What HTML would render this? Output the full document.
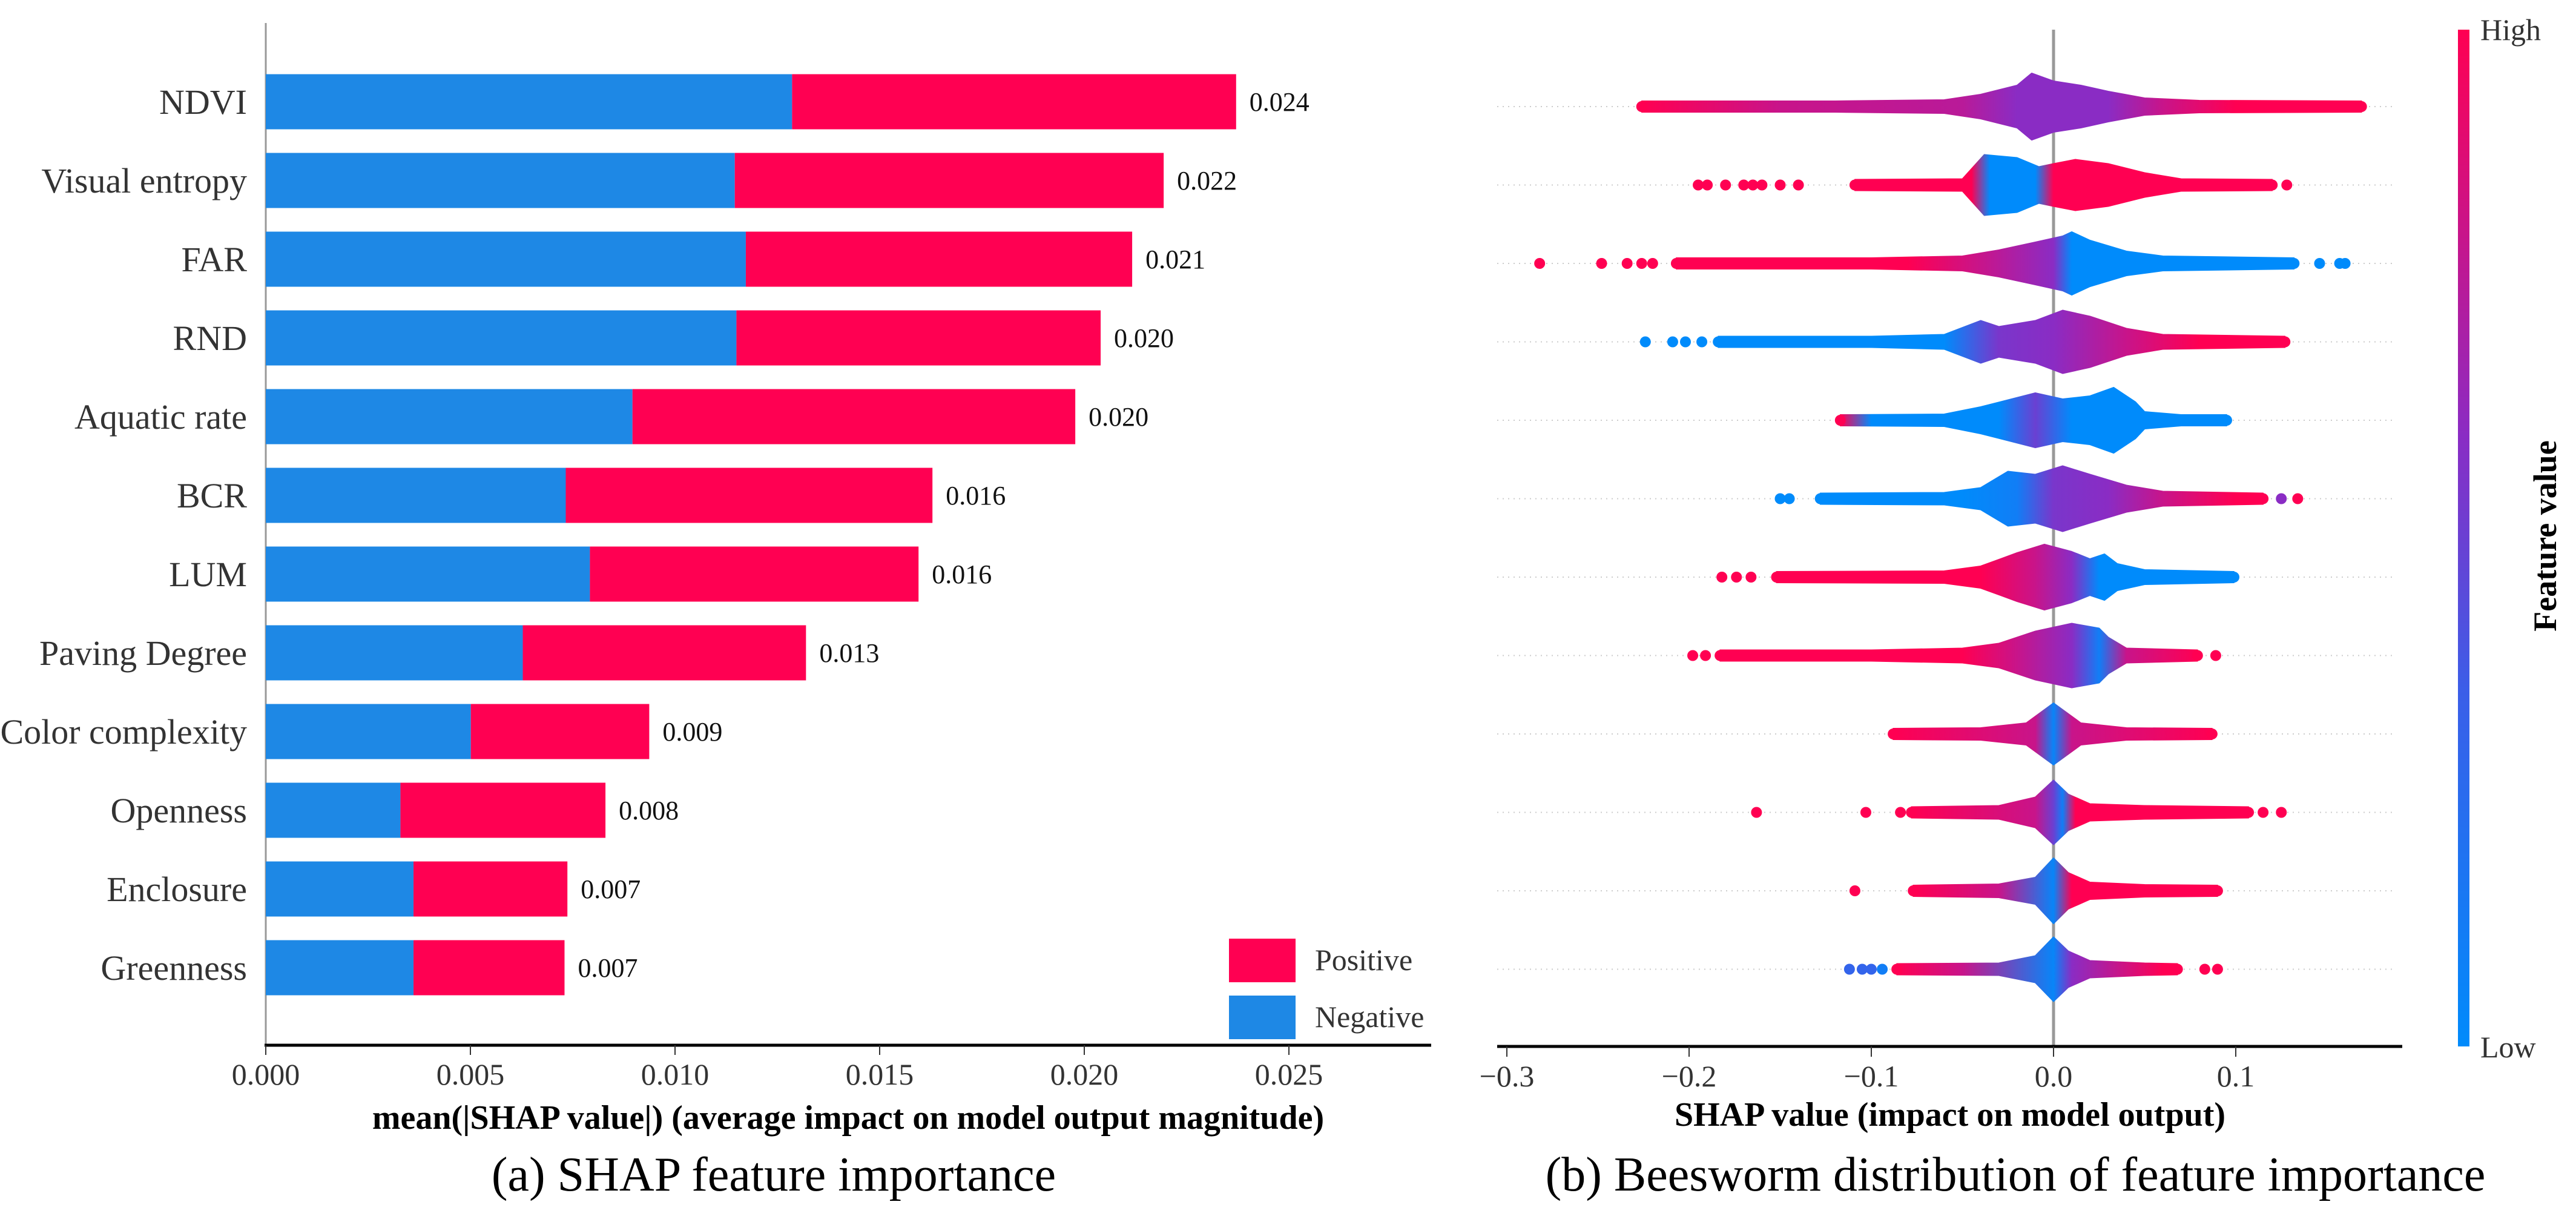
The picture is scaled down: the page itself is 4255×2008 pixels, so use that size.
<!DOCTYPE html>
<html><head><meta charset="utf-8"><style>
html,body{margin:0;padding:0;background:#fff}
svg{display:block;font-family:"Liberation Serif","Times New Roman",serif}
</style></head><body>
<svg id="fig" xmlns="http://www.w3.org/2000/svg" width="4255" height="2008" viewBox="0 0 4255 2008">
<defs>
<linearGradient id="cbar" x1="0" y1="1" x2="0" y2="0">
<stop offset="0" stop-color="#008bfb"/><stop offset="0.35" stop-color="#3b5ee8"/><stop offset="0.6" stop-color="#8a2cc4"/><stop offset="0.8" stop-color="#c8148a"/><stop offset="1" stop-color="#ff0052"/>
</linearGradient>
</defs>
<g id="left"></g>
<g id="right"></g>
</svg>
<script>
const features = ["NDVI","Visual entropy","FAR","RND","Aquatic rate","BCR","LUM","Paving Degree","Color complexity","Openness","Enclosure","Greenness"];
const negativeVals = [0.01286,0.01146,0.01173,0.0115,0.00896,0.00733,0.00792,0.00628,0.00501,0.00329,0.00361,0.00361];
const totalVals = [0.02371,0.02194,0.02117,0.0204,0.01978,0.01629,0.01595,0.0132,0.00937,0.0083,0.00737,0.0073];
const valueLabels = ["0.024","0.022","0.021","0.020","0.020","0.016","0.016","0.013","0.009","0.008","0.007","0.007"];
const leftTicks = [0,0.005,0.01,0.015,0.02,0.025];
const leftTickLabels = ["0.000","0.005","0.010","0.015","0.020","0.025"];
const rightTicks = [-0.3,-0.2,-0.1,0,0.1];
const rightTickLabels = ["\u22120.3","\u22120.2","\u22120.1","0.0","0.1"];
// beeswarm density profiles [shap value, half-height px] per feature
const beeProfiles = [
 [[-0.226,9],[-0.12,9],[-0.06,11],[-0.04,20],[-0.02,35],[-0.012,55],[0,42],[0.015,35],[0.03,25],[0.05,14],[0.08,10],[0.169,9]],
 [[-0.109,9],[-0.05,10],[-0.038,50],[-0.02,45],[-0.008,30],[0,35],[0.012,42],[0.03,35],[0.05,20],[0.07,10],[0.12,9]],
 [[-0.207,9],[-0.1,9],[-0.05,12],[-0.03,22],[-0.01,35],[0.005,45],[0.01,52],[0.02,38],[0.04,20],[0.06,12],[0.132,9]],
 [[-0.184,9],[-0.1,9],[-0.06,12],[-0.04,35],[-0.03,25],[-0.01,35],[0.005,52],[0.02,42],[0.04,22],[0.06,12],[0.127,9]],
 [[-0.117,9],[-0.06,10],[-0.04,22],[-0.01,45],[0.005,35],[0.02,40],[0.033,54],[0.045,30],[0.05,14],[0.07,9],[0.095,9]],
 [[-0.128,9],[-0.06,10],[-0.04,18],[-0.025,45],[-0.01,40],[0.005,54],[0.02,40],[0.04,22],[0.06,12],[0.115,9]],
 [[-0.152,9],[-0.06,10],[-0.04,18],[-0.02,40],[-0.005,54],[0.01,42],[0.02,30],[0.028,38],[0.035,22],[0.05,12],[0.099,9]],
 [[-0.183,9],[-0.1,9],[-0.05,12],[-0.03,20],[-0.01,40],[0.01,53],[0.025,45],[0.03,30],[0.04,12],[0.079,9]],
 [[-0.088,9],[-0.04,10],[-0.015,18],[-0.005,40],[0,51],[0.005,40],[0.015,18],[0.04,10],[0.087,9]],
 [[-0.078,9],[-0.03,11],[-0.01,25],[0,53],[0.008,30],[0.02,14],[0.05,11],[0.107,9]],
 [[-0.077,9],[-0.03,11],[-0.01,22],[0,54],[0.008,30],[0.02,14],[0.05,10],[0.09,9]],
 [[-0.086,9],[-0.03,10],[-0.01,22],[0,53],[0.008,30],[0.02,14],[0.05,10],[0.068,9]]
];
// colour stops [shap value, feature-value level 0=low..1=high]
const beeColors = [
 [[-0.226,1],[-0.15,0.8],[-0.05,0.75],[-0.02,0.6],[0.03,0.6],[0.06,0.8],[0.1,1],[0.169,1]],
 [[-0.11,1],[-0.045,1],[-0.035,0],[-0.01,0],[0,1],[0.12,1]],
 [[-0.21,1],[-0.08,1],[-0.03,0.75],[0,0.6],[0.01,0],[0.04,0],[0.132,0]],
 [[-0.184,0],[-0.06,0],[-0.03,0.55],[0,0.6],[0.04,0.8],[0.08,1],[0.127,1]],
 [[-0.117,1],[-0.1,0],[-0.03,0],[-0.01,0.5],[0.01,0],[0.095,0]],
 [[-0.128,0],[-0.05,0],[-0.02,0.1],[0,0.55],[0.03,0.6],[0.06,0.8],[0.1,1],[0.115,1]],
 [[-0.152,1],[-0.04,1],[-0.01,0.8],[0.01,0.6],[0.025,0],[0.099,0]],
 [[-0.183,1],[-0.05,1],[-0.02,0.8],[0.01,0.6],[0.025,0.1],[0.04,0.8],[0.079,1]],
 [[-0.088,1],[-0.01,0.8],[0,0.05],[0.01,0.8],[0.087,1]],
 [[-0.078,1],[-0.01,0.8],[0,0.5],[0.005,0.1],[0.012,1],[0.107,1]],
 [[-0.077,1],[-0.03,0.8],[0,0.05],[0.01,1],[0.09,1]],
 [[-0.086,1],[-0.05,0.8],[0,0.05],[0.01,0.6],[0.06,1]]
];
// isolated points [feature index, shap value, level]
const outlierRow = [1,1,1,1,1,1,1,1,1,1,2,2,2,2,2,2,2,2,3,3,3,3,5,5,5,5,6,6,6,7,7,7,9,9,9,9,9,10,11,11,11,11,11,11];
const outlierVal = [-0.195,-0.19,-0.18,-0.17,-0.165,-0.16,-0.15,-0.14,0.115,0.128,-0.282,-0.248,-0.234,-0.226,-0.22,0.146,0.157,0.16,-0.224,-0.209,-0.202,-0.193,-0.15,-0.145,0.125,0.134,-0.182,-0.174,-0.166,-0.198,-0.191,0.089,-0.163,-0.103,-0.084,0.115,0.125,-0.109,-0.112,-0.105,-0.1,-0.094,0.083,0.09];
const outlierLvl = [1,1,1,1,1,1,1,1,1,1,1,1,1,1,1,0,0,0,0,0,0,0,0,0,0.6,1,1,1,1,1,1,1,1,1,1,1,1,1,0.3,0.3,0.3,0.1,1,1];

const NS="http://www.w3.org/2000/svg";
function mk(tag, attrs, parent, text){const e=document.createElementNS(NS,tag);for(const k in attrs)e.setAttribute(k,attrs[k]);if(text!==undefined)e.textContent=text;parent.appendChild(e);return e;}
const L=document.getElementById('left'), R=document.getElementById('right'), defs=document.querySelector('defs');
const xL=v=>439+v*67600;
const yL=i=>168+i*130;
let e;
e=mk('line',{x1:439,y1:38,x2:439,y2:1726,stroke:'#999','stroke-width':3},L);


e=mk('line',{x1:437,y1:1726,x2:2364,y2:1726,stroke:'#000','stroke-width':5},L);


leftTicks.forEach((t,i)=>{
 e=mk('line',{x1:xL(t),y1:1726,x2:xL(t),y2:1742,stroke:'#333','stroke-width':2},L);
 
 
 e=mk('text',{x:xL(t),y:1791,'font-size':50,'text-anchor':'middle',fill:'#333'},L,leftTickLabels[i]);
 
 
});
features.forEach((f,i)=>{
 const y=yL(i);
 e=mk('text',{x:408,y:y+20,'font-size':58,'text-anchor':'end',fill:'#333'},L,f);
 
 
 e=mk('rect',{x:xL(0),y:y-45.5,width:xL(negativeVals[i])-xL(0),height:91,fill:'#1e88e5'},L);
 
 
 e=mk('rect',{x:xL(negativeVals[i]),y:y-45.5,width:xL(totalVals[i])-xL(negativeVals[i]),height:91,fill:'#ff0052'},L);
 
 
 e=mk('text',{x:xL(totalVals[i])+22,y:y+15,'font-size':44,fill:'#111'},L,valueLabels[i]);
 
 
});
e=mk('rect',{x:2030,y:1550,width:110,height:72,fill:'#ff0052'},L);


e=mk('text',{x:2172,y:1602,'font-size':50,fill:'#333'},L,'Positive');


e=mk('rect',{x:2030,y:1644,width:110,height:72,fill:'#1e88e5'},L);


e=mk('text',{x:2172,y:1696,'font-size':50,fill:'#333'},L,'Negative');


e=mk('text',{x:1401,y:1864,'font-size':56,'font-weight':'bold','text-anchor':'middle',fill:'#000'},L,'mean(|SHAP value|) (average impact on model output magnitude)');


e=mk('text',{x:1278,y:1966,'font-size':80,'text-anchor':'middle',fill:'#000'},L,'(a) SHAP feature importance');



const xR=v=>3392+v*3010;
const yR=i=>176+i*129.5;
function lvlColor(l){
 const stops=[[0,[0,139,251]],[0.35,[59,94,232]],[0.6,[138,44,196]],[0.8,[200,20,138]],[1,[255,0,82]]];
 for(let k=1;k<stops.length;k++){if(l<=stops[k][0]){const a=stops[k-1],b=stops[k];const t=(l-a[0])/(b[0]-a[0]);return 'rgb('+a[1].map((c,j)=>Math.round(c+(b[1][j]-c)*t)).join(',')+')';}}
 return 'rgb(255,0,82)';
}
features.forEach((f,i)=>{
 const y=yR(i);
 e=mk('line',{x1:2473,y1:y,x2:3956,y2:y,stroke:'#ccc','stroke-width':2,'stroke-dasharray':'2 7'},R);
 
 
});
e=mk('line',{x1:xR(0),y1:49,x2:xR(0),y2:1728,stroke:'#999','stroke-width':5},R);


features.forEach((f,i)=>{
 const y=yR(i), prof=beeProfiles[i], cols=beeColors[i];
 const x0=xR(prof[0][0]), x1=xR(prof[prof.length-1][0]);
 const g=mk('linearGradient',{id:'bg'+i,gradientUnits:'userSpaceOnUse',x1:x0,y1:0,x2:x1,y2:0},defs);
 cols.forEach(c=>{mk('stop',{offset:Math.max(0,Math.min(1,(xR(c[0])-x0)/(x1-x0))),'stop-color':lvlColor(c[1])},g);});
 let top=prof.map(p=>xR(p[0])+','+(y-p[1])), bot=prof.slice().reverse().map(p=>xR(p[0])+','+(y+p[1]));
 e=mk('polygon',{points:top.concat(bot).join(' '),fill:'url(#bg'+i+')',stroke:'url(#bg'+i+')','stroke-width':2,'stroke-linejoin':'round'},R);
 
 
 [0,prof.length-1].forEach(k=>{
  e=mk('circle',{cx:xR(prof[k][0]),cy:y,r:9,fill:lvlColor(k===0?cols[0][1]:cols[cols.length-1][1])},R);
  
  
 });
});
outlierRow.forEach((r,k)=>{
 e=mk('circle',{cx:xR(outlierVal[k]),cy:yR(r),r:9,fill:lvlColor(outlierLvl[k])},R);
 
 
});
e=mk('line',{x1:2473,y1:1728,x2:3968,y2:1728,stroke:'#000','stroke-width':5},R);


rightTicks.forEach((t,i)=>{
 e=mk('line',{x1:xR(t),y1:1728,x2:xR(t),y2:1745,stroke:'#333','stroke-width':2},R);
 
 
 e=mk('text',{x:xR(t),y:1794,'font-size':50,'text-anchor':'middle',fill:'#333'},R,rightTickLabels[i]);
 
 
});
e=mk('text',{x:3221,y:1859,'font-size':56,'font-weight':'bold','text-anchor':'middle',fill:'#000'},R,'SHAP value (impact on model output)');


e=mk('text',{x:3329,y:1966,'font-size':80,'text-anchor':'middle',fill:'#000'},R,'(b) Beesworm distribution of feature importance');


e=mk('rect',{x:4060,y:49,width:19,height:1679,fill:'url(#cbar)'},R);


e=mk('text',{x:4097,y:66,'font-size':50,fill:'#333'},R,'High');


e=mk('text',{x:4097,y:1746,'font-size':50,fill:'#333'},R,'Low');


e=mk('text',{x:0,y:0,'font-size':54,'font-weight':'bold','text-anchor':'middle',fill:'#000',transform:'translate(4222,885) rotate(-90)'},R,'Feature value');


</script>
</body></html>
